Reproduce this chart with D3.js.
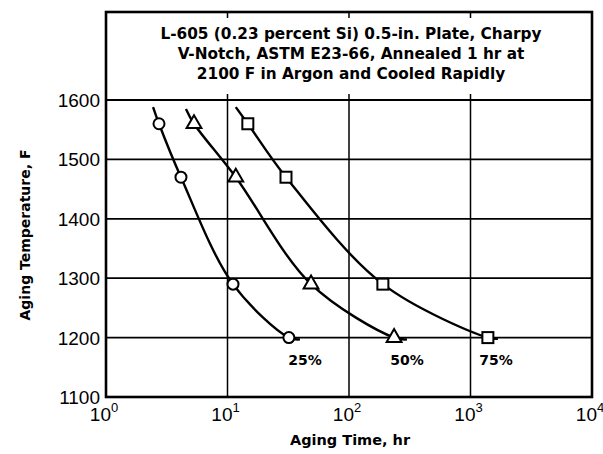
<!DOCTYPE html>
<html>
<head>
<meta charset="utf-8">
<script src="https://cdn.jsdelivr.net/npm/d3@7"></script>
<style>
  body { margin: 0; background: #fff; }
  svg { display: block; font-family: Arial, "Liberation Sans", sans-serif; }
  .bold { font-family: "DejaVu Sans", sans-serif; font-weight: bold; }
</style>
</head>
<body>
<div class="board"></div>
<script>
// chart data
var tempTicks = [1100, 1200, 1300, 1400, 1500, 1600];
var timeExps = [0, 1, 2, 3, 4];
var titleLines = [
  'L-605 (0.23 percent Si) 0.5-in. Plate, Charpy',
  'V-Notch, ASTM E23-66, Annealed 1 hr at',
  '2100 F in Argon and Cooled Rapidly'
];

var temps = [1560, 1470, 1290, 1200];
var time25 = [2.73, 4.14, 11.1, 32];
var time50 = [5.3, 11.7, 48.7, 235];
var time75 = [14.7, 30.3, 190, 1390];

// where each faired curve starts (top) and ends (bottom)
var curveStart = [[2.44, 1588], [4.55, 1585], [11.7, 1588]];
var curveEnd = [[39.5, 1197], [300, 1197], [1680, 1198]];
var seriesLabels = ['25%', '50%', '75%'];
var labelAt = [[43.5, 1162], [300, 1162], [1620, 1162]];

var settings = {
  w: 603,
  h: 454,
  left: 106,
  right: 592,
  top: 12,
  bottom: 397
};

var svg = d3.select('.board')
  .append('svg')
  .attr('width', settings.w)
  .attr('height', settings.h);

var x = d3.scaleLog().domain([1, 1e4]).range([settings.left, settings.right]);
var y = d3.scaleLinear().domain([1100, 1600]).range([settings.bottom, 100]);

// horizontal gridlines
svg.selectAll('.hgrid')
  .data(tempTicks.slice(1))
  .enter()
  .append('line')
  .attr('x1', settings.left)
  .attr('x2', settings.right)
  .attr('y1', function(d) { return y(d); })
  .attr('y2', function(d) { return y(d); })
  .attr('stroke', '#000')
  .attr('stroke-width', 1.8);

// vertical gridlines (only below the title box, small ticks inside it)
var inner = timeExps.slice(1, 4);
svg.selectAll('.vgrid')
  .data(inner)
  .enter()
  .append('line')
  .attr('x1', function(d) { return x(Math.pow(10, d)); })
  .attr('x2', function(d) { return x(Math.pow(10, d)); })
  .attr('y1', y(1600) - 6)
  .attr('y2', settings.bottom)
  .attr('stroke', '#000')
  .attr('stroke-width', 1.5);

svg.selectAll('.vtop')
  .data(inner)
  .enter()
  .append('line')
  .attr('x1', function(d) { return x(Math.pow(10, d)); })
  .attr('x2', function(d) { return x(Math.pow(10, d)); })
  .attr('y1', settings.top)
  .attr('y2', settings.top + 6)
  .attr('stroke', '#000')
  .attr('stroke-width', 1.5);

// frame
svg.append('rect')
  .attr('x', settings.left)
  .attr('y', settings.top)
  .attr('width', settings.right - settings.left)
  .attr('height', settings.bottom - settings.top)
  .attr('fill', 'none')
  .attr('stroke', '#000')
  .attr('stroke-width', 2.6);

// title
svg.append('text')
  .attr('class', 'bold')
  .attr('x', (settings.left + settings.right) / 2)
  .attr('y', 39)
  .attr('text-anchor', 'middle')
  .style('font-size', '15.3px')
  .selectAll('tspan')
  .data(titleLines)
  .enter()
  .append('tspan')
  .attr('x', (settings.left + settings.right) / 2 + 2)
  .attr('dy', function(d, i) { return i === 0 ? 0 : 20; })
  .text(function(d) { return d; });

// y tick labels
svg.selectAll('.ylab')
  .data(tempTicks)
  .enter()
  .append('text')
  .attr('x', 100)
  .attr('y', function(d) { return y(d) + 7; })
  .attr('text-anchor', 'end')
  .style('font-size', '19px')
  .text(function(d) { return d; });

// x tick labels: 10 with exponent
var xl = svg.selectAll('.xlab')
  .data(timeExps)
  .enter()
  .append('text')
  .attr('x', function(d) { return x(Math.pow(10, d)) - 2; })
  .attr('y', 421)
  .attr('text-anchor', 'middle')
  .style('font-size', '19px');
xl.append('tspan').text('10');
xl.append('tspan')
  .attr('dy', -9)
  .style('font-size', '13px')
  .text(function(d) { return d; });

// axis titles
svg.append('text')
  .attr('class', 'bold')
  .attr('x', 350)
  .attr('y', 445)
  .attr('text-anchor', 'middle')
  .style('font-size', '14.5px')
  .text('Aging Time, hr');

svg.append('text')
  .attr('class', 'bold')
  .attr('transform', 'translate(30,235) rotate(-90)')
  .attr('text-anchor', 'middle')
  .style('font-size', '14px')
  .text('Aging Temperature, F');

// curves
var series = [time25, time50, time75];
var line = d3.line()
  .x(function(d) { return x(d[0]); })
  .y(function(d) { return y(d[1]); })
  .curve(d3.curveCatmullRom.alpha(0.5));

series.forEach(function(times, i) {
  var pts = [curveStart[i]].concat(times.map(function(t, j) { return [t, temps[j]]; }), [curveEnd[i]]);
  svg.append('path')
    .attr('d', line(pts))
    .attr('fill', 'none')
    .attr('stroke', '#000')
    .attr('stroke-width', 2.4);
});

// markers
var markerStyle = function(sel) {
  sel.attr('fill', '#fff').attr('stroke', '#000').attr('stroke-width', 2);
};

svg.selectAll('.m25')
  .data(time25)
  .enter()
  .append('circle')
  .attr('cx', function(d) { return x(d); })
  .attr('cy', function(d, j) { return y(temps[j]); })
  .attr('r', 5.5)
  .call(markerStyle);

svg.selectAll('.m50')
  .data(time50)
  .enter()
  .append('path')
  .attr('transform', function(d, j) { return 'translate(' + x(d) + ',' + y(temps[j]) + ')'; })
  .attr('d', d3.symbol().type(d3.symbolTriangle).size(95))
  .call(markerStyle);

svg.selectAll('.m75')
  .data(time75)
  .enter()
  .append('rect')
  .attr('x', function(d) { return x(d) - 5.5; })
  .attr('y', function(d, j) { return y(temps[j]) - 5.5; })
  .attr('width', 11)
  .attr('height', 11)
  .call(markerStyle);

// series labels
svg.selectAll('.slab')
  .data(seriesLabels)
  .enter()
  .append('text')
  .attr('class', 'bold')
  .attr('x', function(d, i) { return x(labelAt[i][0]); })
  .attr('y', function(d, i) { return y(labelAt[i][1]) + 5; })
  .attr('text-anchor', 'middle')
  .style('font-size', '14px')
  .text(function(d) { return d; });
</script>
</body>
</html>
